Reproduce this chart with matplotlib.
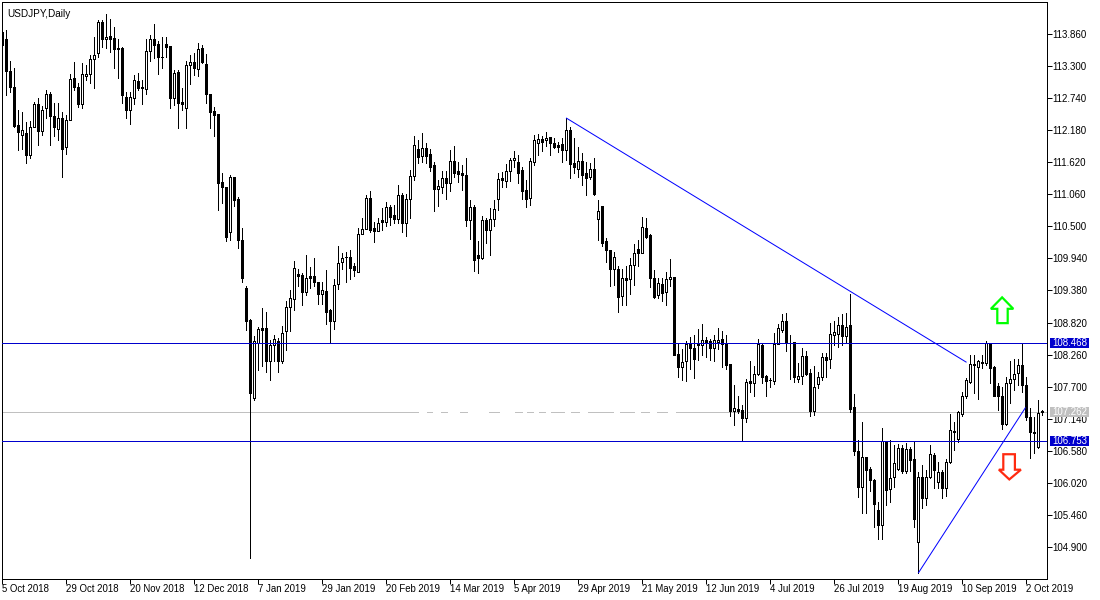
import matplotlib
matplotlib.use('Agg')
import matplotlib.pyplot as plt
from matplotlib.patches import Polygon, Rectangle

plt.rcParams['font.family'] = ['Liberation Sans', 'DejaVu Sans']

# daily USDJPY candles
opens = [
    113.89, 113.77, 113.21, 112.93, 112.27, 112.10, 112.13, 111.75, 112.24, 112.64,
    112.17, 112.56, 112.81, 112.42, 112.20, 112.39, 111.88, 112.36, 113.09, 112.93,
    112.64, 113.12, 113.17, 113.42, 113.52, 114.07, 113.78, 113.82, 113.79, 113.61,
    113.62, 112.76, 112.53, 112.75, 113.04, 112.93, 112.90, 113.57, 113.77, 113.68,
    113.46, 113.68, 113.65, 112.75, 113.20, 112.67, 112.56, 113.31, 113.37, 113.25,
    113.61, 113.33, 112.81, 112.51, 112.47, 111.27, 111.19, 110.41, 111.36, 110.98,
    110.26, 109.42, 108.86, 107.50, 108.47, 108.73, 108.73, 108.14, 108.42, 108.49,
    108.15, 108.68, 109.09, 109.23, 109.67, 109.65, 109.36, 109.63, 109.63, 109.53,
    109.32, 109.37, 109.04, 108.84, 109.49, 109.88, 109.97, 109.97, 109.81, 109.71,
    110.37, 110.46, 111.00, 110.47, 110.42, 110.61, 110.58, 110.84, 110.70, 110.63,
    111.05, 110.56, 110.98, 111.38, 111.85, 111.73, 111.87, 111.76, 111.57, 111.15,
    111.19, 111.35, 111.26, 111.64, 111.47, 111.43, 111.40, 110.61, 110.84, 110.00,
    109.95, 110.61, 110.44, 110.63, 110.98, 111.35, 111.30, 111.47, 111.66, 111.62,
    111.49, 111.14, 111.00, 111.63, 111.96, 112.03, 112.00, 112.06, 111.96, 111.92,
    111.94, 111.83, 112.18, 111.61, 111.51, 111.64, 111.43, 111.36, 111.50, 110.63,
    110.86, 110.24, 110.09, 109.76, 109.76, 109.29, 109.60, 109.58, 109.83, 110.10,
    110.04, 110.47, 110.35, 109.60, 109.30, 109.49, 109.36, 109.58, 109.62, 108.27,
    108.04, 108.14, 108.45, 108.38, 108.45, 108.42, 108.52, 108.50, 108.37, 108.48,
    108.53, 108.46, 108.10, 107.28, 107.31, 107.29, 107.16, 107.80, 107.77, 107.92,
    108.43, 107.89, 107.82, 107.80, 108.45, 108.69, 108.85, 108.47, 108.48, 107.83,
    107.89, 108.24, 107.94, 107.28, 107.75, 107.87, 108.22, 108.18, 108.61, 108.62,
    108.78, 108.59, 108.78, 107.35, 106.58, 105.94, 106.47, 106.26, 106.07, 105.55,
    105.28, 106.75, 105.91, 106.12, 106.26, 106.63, 106.22, 106.61, 106.44, 104.99,
    106.13, 105.76, 106.12, 106.51, 106.04, 106.21, 105.93, 106.39, 106.93, 106.79,
    107.22, 107.53, 107.79, 108.10, 108.05, 108.13, 108.12, 108.46, 108.04, 107.71,
    107.54, 107.05, 107.76, 107.83, 107.94, 108.08, 107.73, 107.17, 106.91, 106.65,
    107.28,
]
highs = [
    113.89, 113.93, 113.39, 113.26, 112.53, 112.50, 112.33, 112.34, 112.68, 112.74,
    112.60, 112.88, 112.85, 112.66, 112.65, 112.50, 112.45, 113.16, 113.37, 113.00,
    113.35, 113.32, 113.49, 113.80, 114.10, 114.10, 114.21, 114.13, 113.99, 113.78,
    113.64, 112.85, 112.85, 113.14, 113.18, 113.06, 113.78, 113.84, 114.03, 113.73,
    113.81, 113.80, 113.65, 113.23, 113.23, 112.91, 113.38, 113.49, 113.52, 113.70,
    113.67, 113.51, 112.81, 112.59, 112.47, 111.43, 111.19, 111.40, 111.36, 111.02,
    110.47, 109.46, 108.88, 108.59, 108.75, 109.07, 109.00, 108.52, 108.60, 108.55,
    108.76, 109.20, 109.39, 109.90, 109.76, 109.69, 110.00, 109.79, 109.95, 109.53,
    109.53, 109.74, 109.06, 109.58, 110.16, 110.03, 110.05, 110.09, 109.86, 110.47,
    110.65, 111.05, 111.12, 110.58, 110.65, 110.82, 110.93, 110.87, 110.87, 111.22,
    111.08, 111.07, 111.49, 112.08, 112.01, 112.13, 111.96, 111.85, 111.63, 111.31,
    111.47, 111.47, 111.83, 111.90, 111.63, 111.57, 111.69, 110.96, 110.87, 110.24,
    110.68, 110.65, 110.82, 110.96, 111.43, 111.45, 111.59, 111.69, 111.82, 111.75,
    111.54, 111.31, 111.69, 112.10, 112.11, 112.07, 112.15, 112.06, 112.04, 111.98,
    112.04, 112.39, 112.24, 112.04, 111.89, 111.78, 111.63, 111.61, 111.69, 110.96,
    110.86, 110.30, 110.09, 110.06, 109.80, 109.76, 109.80, 109.95, 110.19, 110.26,
    110.66, 110.65, 110.37, 109.74, 109.60, 109.60, 109.70, 109.93, 109.62, 108.46,
    108.36, 108.49, 108.57, 108.60, 108.71, 108.80, 108.57, 108.53, 108.60, 108.73,
    108.67, 108.60, 108.10, 107.73, 107.54, 107.38, 107.83, 108.15, 108.06, 108.53,
    108.46, 107.90, 107.85, 108.64, 108.80, 108.97, 108.99, 108.60, 108.48, 108.11,
    108.38, 108.33, 108.01, 108.06, 107.96, 108.29, 108.29, 108.81, 108.84, 108.92,
    108.97, 108.99, 109.32, 107.57, 106.76, 107.08, 106.48, 106.30, 106.09, 105.69,
    106.98, 106.75, 106.76, 106.68, 106.70, 106.68, 106.72, 106.65, 106.75, 106.21,
    106.33, 106.25, 106.68, 106.55, 106.39, 106.25, 106.44, 107.22, 107.09, 107.28,
    107.60, 107.85, 108.25, 108.25, 108.17, 108.25, 108.49, 108.46, 108.06, 107.76,
    107.70, 107.87, 108.14, 108.18, 108.18, 108.46, 107.87, 107.33, 107.17, 107.47,
    107.30,
]
lows = [
    113.67, 112.80, 112.85, 112.24, 111.83, 111.86, 111.61, 111.69, 112.24, 111.93,
    112.10, 112.39, 111.93, 112.08, 112.01, 111.37, 111.76, 112.35, 112.88, 112.59,
    112.56, 113.06, 113.00, 112.92, 113.46, 113.63, 113.62, 113.55, 113.26, 113.09,
    112.65, 112.40, 112.29, 112.64, 112.88, 112.64, 112.82, 113.39, 113.44, 113.16,
    113.26, 113.46, 112.56, 112.62, 112.21, 112.53, 112.22, 112.99, 113.14, 113.13,
    113.35, 112.65, 112.22, 112.07, 110.79, 110.91, 110.24, 110.26, 110.86, 110.13,
    109.53, 108.69, 104.71, 107.47, 107.99, 108.06, 107.96, 107.82, 108.14, 107.96,
    108.12, 108.34, 108.68, 109.04, 109.46, 109.13, 109.30, 109.42, 109.45, 109.14,
    109.14, 108.80, 108.48, 108.71, 109.41, 109.76, 109.53, 109.58, 109.63, 109.71,
    110.37, 110.45, 110.41, 110.23, 110.42, 110.44, 110.51, 110.52, 110.56, 110.56,
    110.41, 110.33, 110.65, 111.31, 111.61, 111.63, 111.61, 111.47, 110.76, 110.86,
    111.08, 110.98, 111.12, 111.37, 111.28, 111.14, 110.51, 110.28, 109.72, 109.69,
    109.93, 110.21, 110.00, 110.51, 110.79, 111.19, 111.19, 111.30, 111.54, 111.26,
    110.98, 110.83, 110.87, 111.57, 111.75, 111.82, 111.90, 111.75, 111.87, 111.80,
    111.63, 111.66, 111.35, 111.43, 111.37, 111.22, 111.04, 111.33, 111.05, 110.26,
    110.15, 109.88, 109.45, 109.48, 109.01, 109.13, 109.13, 109.32, 109.48, 109.80,
    110.03, 110.30, 109.44, 109.25, 109.25, 109.20, 109.13, 109.46, 108.25, 107.87,
    107.82, 107.80, 108.01, 107.86, 108.17, 108.25, 108.22, 108.17, 108.14, 108.36,
    108.05, 108.01, 107.19, 107.03, 107.24, 106.75, 107.09, 107.61, 107.54, 107.90,
    107.76, 107.53, 107.70, 107.75, 108.45, 108.66, 108.33, 107.83, 107.78, 107.79,
    107.75, 107.90, 107.19, 107.21, 107.68, 107.82, 107.87, 108.03, 108.43, 108.40,
    108.43, 108.46, 107.25, 106.50, 105.78, 105.50, 105.49, 105.88, 105.25, 105.04,
    105.04, 105.63, 105.69, 105.95, 106.25, 106.20, 106.20, 106.22, 105.25, 104.45,
    105.58, 105.63, 106.11, 105.93, 105.93, 105.76, 105.79, 106.37, 106.59, 106.74,
    107.18, 107.50, 107.76, 107.59, 107.49, 108.03, 108.08, 107.76, 107.53, 107.29,
    106.96, 107.03, 107.41, 107.64, 107.73, 107.61, 107.12, 106.46, 106.54, 106.63,
    107.21,
]
closes = [
    113.67, 113.22, 112.94, 112.25, 112.14, 112.18, 111.75, 112.24, 112.64, 112.17,
    112.53, 112.81, 112.42, 112.23, 112.39, 111.86, 112.36, 113.07, 112.93, 112.64,
    113.17, 113.17, 113.42, 113.49, 114.07, 113.78, 113.81, 113.78, 113.60, 113.60,
    112.80, 112.53, 112.76, 113.06, 112.92, 112.92, 113.57, 113.77, 113.66, 113.46,
    113.45, 113.64, 112.75, 113.18, 112.65, 112.64, 113.32, 113.37, 113.26, 113.60,
    113.37, 112.82, 112.50, 112.45, 111.26, 111.19, 110.31, 111.36, 110.96, 110.26,
    109.60, 108.85, 107.59, 108.49, 108.71, 108.69, 108.14, 108.42, 108.53, 108.14,
    108.64, 109.09, 109.25, 109.77, 109.64, 109.36, 109.60, 109.60, 109.53, 109.32,
    109.38, 109.01, 108.84, 109.48, 109.86, 109.95, 109.96, 109.77, 109.74, 110.37,
    110.46, 111.00, 110.44, 110.42, 110.56, 110.58, 110.84, 110.67, 110.63, 111.05,
    110.56, 110.98, 111.38, 111.92, 111.72, 111.87, 111.73, 111.54, 111.15, 111.21,
    111.35, 111.26, 111.64, 111.44, 111.42, 111.39, 110.61, 110.84, 109.91, 109.95,
    110.61, 110.44, 110.63, 110.80, 111.33, 111.31, 111.47, 111.66, 111.69, 111.44,
    111.11, 110.98, 111.64, 112.01, 112.03, 111.98, 112.04, 111.96, 111.89, 111.89,
    111.83, 112.18, 111.59, 111.54, 111.64, 111.40, 111.35, 111.50, 111.07, 110.77,
    110.21, 110.08, 109.76, 109.97, 109.27, 109.60, 109.56, 109.83, 110.03, 110.03,
    110.49, 110.32, 109.60, 109.27, 109.51, 109.34, 109.58, 109.62, 108.25, 108.05,
    108.13, 108.45, 108.38, 108.18, 108.42, 108.52, 108.48, 108.38, 108.52, 108.52,
    108.45, 108.08, 107.28, 107.33, 107.28, 107.16, 107.78, 107.77, 107.92, 108.45,
    107.87, 107.80, 107.81, 108.45, 108.73, 108.85, 108.46, 108.46, 107.87, 107.89,
    108.24, 107.92, 107.28, 107.69, 107.87, 108.22, 108.17, 108.62, 108.66, 108.78,
    108.59, 108.74, 107.31, 106.58, 105.95, 106.47, 106.25, 106.07, 105.65, 105.28,
    106.75, 105.90, 106.11, 106.37, 106.63, 106.22, 106.61, 106.42, 105.39, 106.12,
    105.76, 106.12, 106.52, 106.25, 106.21, 105.93, 106.39, 106.94, 106.90, 107.25,
    107.54, 107.82, 108.10, 108.07, 108.14, 108.11, 108.46, 108.03, 107.54, 107.53,
    107.05, 107.76, 107.83, 107.92, 108.08, 107.73, 107.17, 106.90, 106.89, 107.24,
    107.262,
]

date_labels = ['5 Oct 2018', '29 Oct 2018', '20 Nov 2018', '12 Dec 2018', '7 Jan 2019',
               '29 Jan 2019', '20 Feb 2019', '14 Mar 2019', '5 Apr 2019', '29 Apr 2019',
               '21 May 2019', '12 Jun 2019', '4 Jul 2019', '26 Jul 2019', '19 Aug 2019',
               '10 Sep 2019', '2 Oct 2019']
date_bars = list(range(0, 257, 16))
price_ticks = [113.86, 113.30, 112.74, 112.18, 111.62, 111.06, 110.50, 109.94, 109.38,
               108.82, 108.26, 107.70, 107.14, 106.58, 106.02, 105.46, 104.90]

level_prices = [108.468, 106.753]
bid_price = 107.262
# stretches of the grey bid line that are visible, in bars
bid_from = [0, 106.1, 109.6, 114.4, 121.6, 128.1, 131.1, 134.1, 137.1, 142.1, 146.4, 154.4, 159.6, 163.6, 168.4]
bid_to = [103.9, 107.4, 111.1, 116.1, 124.1, 129.9, 132.6, 135.6, 140.4, 144.1, 152.6, 157.9, 161.6, 166.1, 261.3]

trend_down_x = [141.1, 241]
trend_down_y = [112.39, 108.13]
trend_up_x = [229.1, 255.8]
trend_up_y = [104.45, 107.33]

up_arrow_x = [250.0, 252.8, 251.4, 251.4, 248.8, 248.8, 247.2]
up_arrow_y = [109.26, 109.06, 109.06, 108.81, 108.81, 109.06, 109.06]
down_arrow_x = [251.8, 254.7, 253.2, 253.2, 250.3, 250.3, 249.2]
down_arrow_y = [106.08, 106.25, 106.25, 106.52, 106.52, 106.25, 106.25]

W, H = 1100, 600
LW = 0.72  # one pixel at dpi 100

fig = plt.figure(figsize=(W / 100, H / 100), dpi=100, facecolor='white')
# plot frame runs from pixel (2, 2) to pixel (1047, 578.7)
ax = fig.add_axes([2 / W, 1 - 578.7 / H, 1045 / W, 576.7 / H])
ax.set_xlim(-0.025, 261.225)
ax.set_ylim(104.346, 114.419)

for a, b in zip(bid_from, bid_to):
    ax.plot([a, b], [bid_price, bid_price], color='#c0c0c0', lw=LW, zorder=1,
            antialiased=False, solid_capstyle='butt')

bars = list(range(len(opens)))
ax.vlines(bars, lows, highs, color='black', lw=LW, zorder=2, antialiased=False)
for i in bars:
    o, c = opens[i], closes[i]
    face = 'white' if c > o else 'black'
    ax.bar(i, abs(c - o), bottom=min(o, c), width=0.5, facecolor=face, edgecolor='black',
           linewidth=LW, zorder=3, antialiased=False)

for p in level_prices:
    ax.axhline(p, color='#0000cd', lw=LW, zorder=4, antialiased=False)

ax.plot(trend_down_x, trend_down_y, color='#0000ff', lw=LW, zorder=4)
ax.plot(trend_up_x, trend_up_y, color='#0000ff', lw=LW, zorder=4)

ax.add_patch(Polygon(list(zip(up_arrow_x, up_arrow_y)), closed=True, facecolor='white',
                     edgecolor='#00ff00', linewidth=1.6, zorder=5))
ax.add_patch(Polygon(list(zip(down_arrow_x, down_arrow_y)), closed=True, facecolor='white',
                     edgecolor='#ff2a10', linewidth=1.6, zorder=5))

for s in ax.spines.values():
    s.set_linewidth(LW)
    s.set_color('black')

ax.yaxis.tick_right()
ax.set_yticks(price_ticks)
ax.set_yticklabels(['%.3f' % p for p in price_ticks])
ax.set_xticks(date_bars)
ax.set_xticklabels(date_labels)
ax.tick_params(axis='y', length=3.6, width=LW, pad=0.5, labelsize=7.0)
ax.tick_params(axis='x', length=3.6, width=LW, pad=0.5, labelsize=6.9)
for lab in ax.get_xticklabels():
    lab.set_ha('left')

ax.text(0.0048, 0.9885, 'USDJPY,Daily', transform=ax.transAxes, fontsize=7.2, ha='left', va='top')

# price tags on the right scale
def price_tag(price, color):
    ax.add_patch(Rectangle((1.0029, price - 0.087), 0.0373, 0.174,
                           transform=ax.get_yaxis_transform(), facecolor=color, edgecolor='none',
                           clip_on=False, zorder=6))
    ax.text(1.0215, price, '%.3f' % price, transform=ax.get_yaxis_transform(), color='white',
            fontsize=7.0, ha='center', va='center', zorder=7, clip_on=False)

price_tag(level_prices[0], '#0000cd')
price_tag(level_prices[1], '#0000cd')
price_tag(bid_price, '#c0c0c0')

fig.savefig('out.png', dpi=100, facecolor='white')
